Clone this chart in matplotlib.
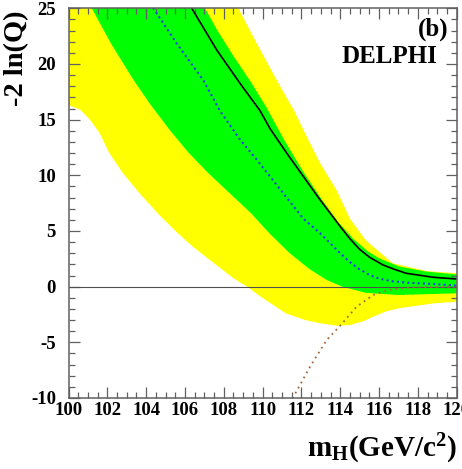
import numpy as np
import matplotlib
matplotlib.use("Agg")
import matplotlib.pyplot as plt
from matplotlib.ticker import MultipleLocator

plt.rcParams['font.family'] = ['Liberation Serif', 'DejaVu Serif']
plt.rcParams['font.weight'] = 'bold'
plt.rcParams['axes.unicode_minus'] = False
plt.rcParams['mathtext.fontset'] = 'custom'
plt.rcParams['mathtext.rm'] = 'Liberation Serif:bold'
plt.rcParams['mathtext.bf'] = 'Liberation Serif:bold'
plt.rcParams['mathtext.it'] = 'Liberation Serif:bold'

# 2 sigma band (yellow)
y2_lo_m = [100, 100.6, 101.1, 101.6, 102.1, 102.8, 103.7, 104.7, 105.6, 106.4, 107.5, 108.5,
           109.2, 109.9, 111.2, 112.2, 113.0, 113.8, 114.5, 115.2, 115.7, 116.4, 117.0, 118.8, 120]
y2_lo_v = [16.3, 15.9, 15.0, 13.8, 12.0, 10.2, 8.3, 6.4, 4.85, 3.6, 2.1, 0.75,
           0.0, -0.9, -2.4, -3.0, -3.3, -3.5, -3.45, -3.1, -2.7, -2.2, -1.95, -1.5, -1.35]
y2_hi_m = [100, 104, 108.75, 109.7, 110.9, 111.6, 112.1, 112.96, 113.8, 114.5, 115.3, 116.7, 118.45, 120]
y2_hi_v = [56, 39, 25, 21.85, 18.0, 15.9, 14.1, 11.1, 8.7, 6.1, 4.2, 2.1, 1.4, 1.2]

# 1 sigma band (green)
g1_lo_m = [100, 101.2, 102.2, 103.3, 104.2, 105.2, 106.2, 107.2, 108.3, 109.4, 110.4, 111.4,
           112.4, 113.3, 114.1, 115.3, 117.0, 118.8, 120]
g1_lo_v = [28.5, 25, 21.8, 18.7, 16.4, 14.1, 12.0, 10.2, 8.4, 6.6, 4.7, 3.0,
           1.6, 0.6, 0.0, -0.55, -0.75, -0.66, -0.6]
g1_hi_m = [100, 107.03, 107.64, 108.5, 109.35, 110.2, 111.07, 112.1, 113.1, 113.9, 114.67,
           115.4, 116.0, 117.05, 118.45, 120]
g1_hi_v = [50, 25, 23.1, 20.7, 18.5, 16.1, 13.3, 10.3, 7.7, 5.8, 4.3,
           3.2, 2.55, 1.8, 1.35, 1.1]

# observed
obs_m = [105.5, 106.35, 107.64, 108.84, 109.87, 110.38, 111.24, 112.1, 112.96, 114.0,
         114.5, 115.0, 115.5, 116.2, 116.8, 117.4, 118.8, 120]
obs_v = [27.5, 25, 21.25, 18.25, 15.8, 14.2, 12.0, 9.9, 7.8, 5.4,
         4.3, 3.35, 2.65, 1.95, 1.55, 1.2, 0.84, 0.69]

# expected background
bkg_m = [104.0, 104.37, 105.57, 106.94, 107.8, 108.84, 109.7, 110.38, 111.24, 112.1,
         112.96, 114.0, 114.5, 115.0, 115.5, 116.05, 116.7, 117.4, 118.8, 120]
bkg_v = [26, 25, 21.85, 18.55, 15.8, 13.2, 11.4, 9.9, 8.0, 6.1,
         4.8, 3.0, 2.2, 1.55, 1.05, 0.7, 0.48, 0.36, 0.24, 0.09]

# expected signal+background
sb_m = [111.4, 112.44, 113.3, 114.0, 114.84, 115.7, 116.5, 117.7, 120]
sb_v = [-10.5, -7.2, -4.8, -3.5, -1.8, -0.75, -0.3, -0.06, 0.0]

fig = plt.figure(figsize=(4.62, 4.69), dpi=100)
ax = fig.add_axes([0.1483, 0.1514, 0.8402, 0.8309])

ax.fill(np.concatenate([y2_lo_m, y2_hi_m[::-1]]), np.concatenate([y2_lo_v, y2_hi_v[::-1]]),
        color='#ffff00', lw=0)
ax.fill(np.concatenate([g1_lo_m, g1_hi_m[::-1]]), np.concatenate([g1_lo_v, g1_hi_v[::-1]]),
        color='#00ff00', lw=0)

ax.axhline(0, color='#505050', lw=0.8)
ax.plot(sb_m, sb_v, color='#a86a3c', lw=1.3, ls=(0, (1, 2.2)))
ax.plot(bkg_m, bkg_v, color='#2040e8', lw=1.5, ls=(0, (1, 1.5)))
ax.plot(obs_m, obs_v, color='black', lw=1.2)

ax.set_xlim(100, 120)
ax.set_ylim(-10, 25)
ax.xaxis.set_major_locator(MultipleLocator(2))
ax.xaxis.set_minor_locator(MultipleLocator(0.5))
ax.yaxis.set_major_locator(MultipleLocator(5))
ax.yaxis.set_minor_locator(MultipleLocator(1))
ax.tick_params(which='both', direction='in', top=True, right=True, color='#606060',
               labelsize=13.5)
ax.tick_params(which='major', length=8, width=0.9)
ax.tick_params(which='minor', length=4.5, width=0.9)
ax.tick_params(axis='x', pad=3)
ax.tick_params(axis='y', pad=9)
for sp in ax.spines.values():
    sp.set_color('#606060')
    sp.set_linewidth(1.1)

ax.text(0.978, 0.975, '(b)', transform=ax.transAxes, ha='right', va='top', fontsize=18)
ax.text(0.951, 0.905, 'DELPHI', transform=ax.transAxes, ha='right', va='top', fontsize=18)

fig.text(0.037, 0.978, '-2 ln(Q)', rotation=90, ha='center', va='top', fontsize=20.5)
fig.text(0.989, 1 - 457 / 469, r'm$_\mathrm{H}$(GeV/c$^\mathrm{2}$)', ha='right', va='baseline',
         fontsize=21)

fig.savefig('out.png', dpi=100)
